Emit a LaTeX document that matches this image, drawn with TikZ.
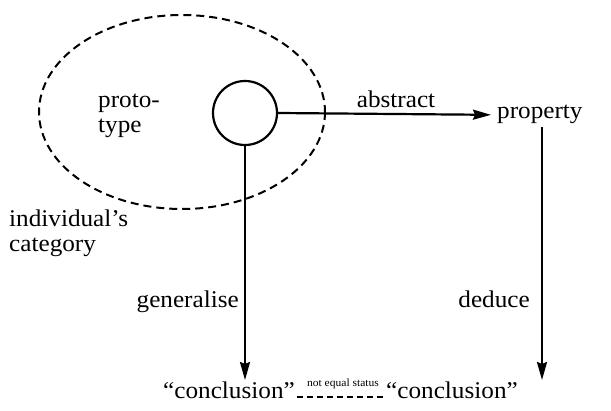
\documentclass[tikz,border=0pt]{standalone}
\usepackage{fontspec}
\setmainfont[FakeStretch=1.05]{Liberation Serif}
\usetikzlibrary{arrows.meta}
\begin{document}
\begin{tikzpicture}[x=1pt,y=-1pt,
  lbl/.style={font=\fontsize{24}{26}\selectfont, inner sep=0pt},
  small/.style={font=\fontsize{11}{12}\selectfont, inner sep=0pt},
  conn/.style={line width=2.2pt, -{Stealth[length=18pt,width=10pt,inset=2pt]}},
  ]
\useasboundingbox (0,0) rectangle (611,411);
% category ellipse
\draw[line width=2pt, dash pattern=on 8pt off 5pt] (182,112) ellipse [x radius=143, y radius=97];
% prototype circle
\node[draw, circle, line width=2.2pt, minimum size=64pt, inner sep=0pt] (proto) at (245,113) {};
% texts
\node[lbl, anchor=base west] (pt1) at (98,108) {proto-};
\node[lbl, anchor=base west] (pt2) at (98,133) {type};
\node[lbl, anchor=base west] (ic1) at (9,227) {individual's};
\node[lbl, anchor=base west] (ic2) at (9,252) {category};
\node[lbl, anchor=base west] (prop) at (497,119) {property};
\node[lbl, anchor=base] (abs) at (396,108) {abstract};
\node[lbl, anchor=base east] (gen) at (239,308) {generalise};
\node[lbl, anchor=base east] (ded) at (530,308) {deduce};
\node[lbl, anchor=base] (concL) at (229,399) {``conclusion''};
\node[lbl, anchor=base] (concR) at (452,399) {``conclusion''};
\node[small, anchor=base] (neq) at (343,387) {not equal status};
% connectors
\coordinate (rend) at (542,380);
\coordinate (lend) at (245,380);
\draw[conn] (proto.east) -- ([xshift=-6pt]prop.west);
\draw[conn, shorten <=3pt] (prop.south -| rend) -- (rend);
\draw[conn] (proto.south) -- (lend);
\draw[line width=2pt, dash pattern=on 6pt off 4pt] ([xshift=2pt,yshift=2pt]concL.base east) -- ([xshift=-3pt,yshift=2pt]concR.base west);
\end{tikzpicture}
\end{document}
